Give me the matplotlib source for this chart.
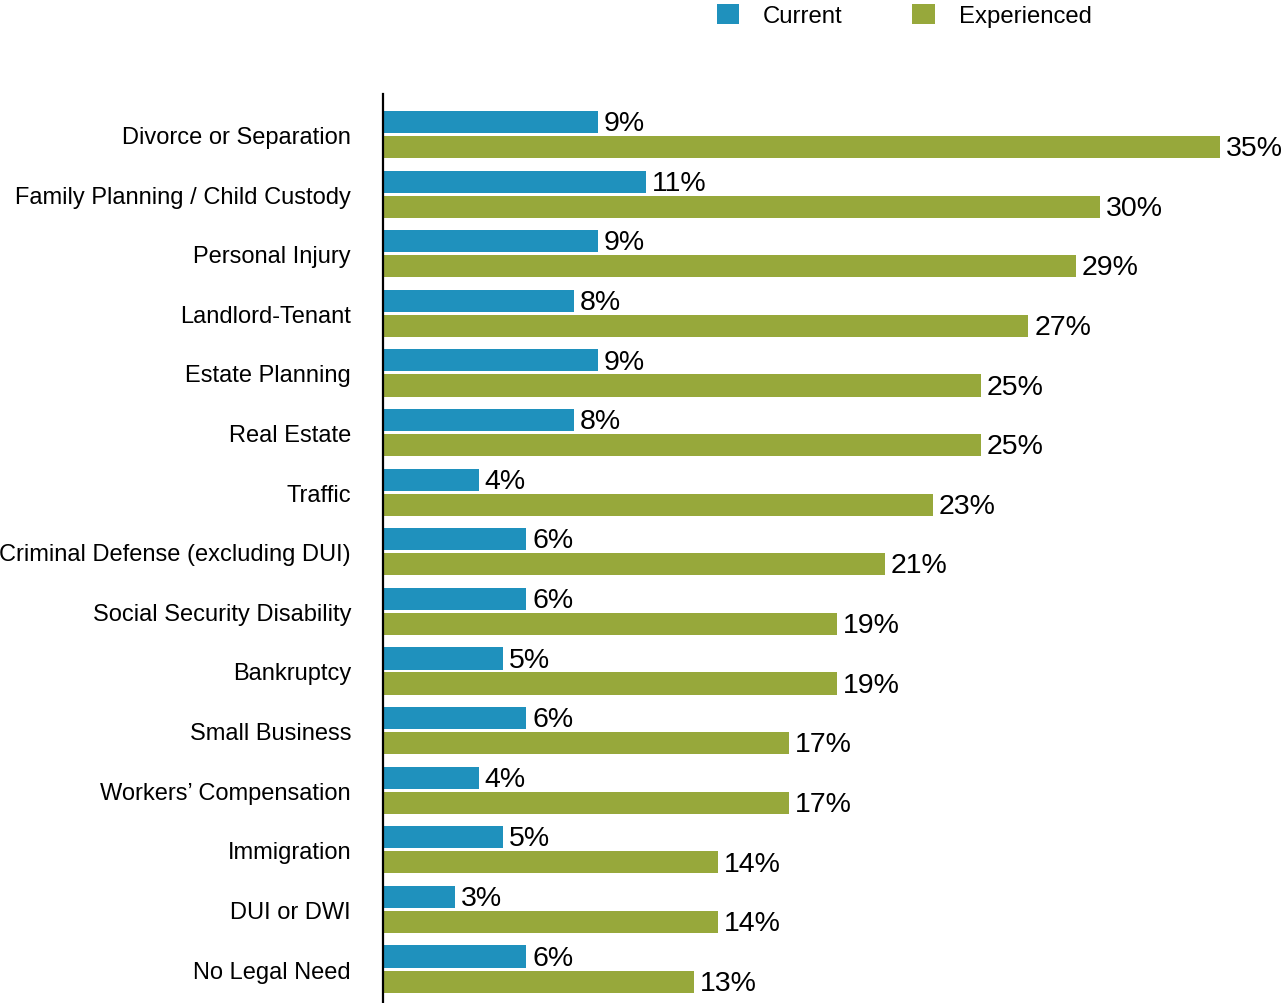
import numpy as np
import matplotlib.pyplot as plt

plt.rcParams['font.family'] = ['Liberation Sans', 'DejaVu Sans']

categories = [
    "Divorce or Separation",
    "Family Planning / Child Custody",
    "Personal Injury",
    "Landlord-Tenant",
    "Estate Planning",
    "Real Estate",
    "Traffic",
    "Criminal Defense (excluding DUI)",
    "Social Security Disability",
    "Bankruptcy",
    "Small Business",
    "Workers\u2019 Compensation",
    "Immigration",
    "DUI or DWI",
    "No Legal Need",
]
current = [9, 11, 9, 8, 9, 8, 4, 6, 6, 5, 6, 4, 5, 3, 6]
experienced = [35, 30, 29, 27, 25, 25, 23, 21, 19, 19, 17, 17, 14, 14, 13]

blue = '#1f91bd'
green = '#97a83b'

fig = plt.figure(figsize=(12.86, 10.04), dpi=100)
ax = fig.add_axes([383 / 1286, 0, 1 - 383 / 1286, 1 - 95 / 1004])

y = np.arange(len(categories))
h = 0.37
off = 0.21
ax.barh(y - off, current, height=h, color=blue, label='Current')
ax.barh(y + off, experienced, height=h, color=green, label='Experienced')

# percentage labels just past the end of each bar
for yi, v in zip(y, current):
    ax.text(v + 0.25, yi - off + 0.02, f"{v}%", va='center', ha='left', fontsize=20.5)
for yi, v in zip(y, experienced):
    ax.text(v + 0.25, yi + off + 0.02, f"{v}%", va='center', ha='left', fontsize=20.5)

ax.set_xlim(0, (1286 - 383) / 23.9)
ax.set_ylim(len(categories) - 1 + 0.57, -0.68)
ax.set_yticks(y)
ax.set_yticklabels(categories, fontsize=17)
ax.tick_params(axis='y', length=0, pad=23)
ax.set_xticks([])
for s in ['top', 'right', 'bottom']:
    ax.spines[s].set_visible(False)
ax.spines['left'].set_linewidth(1.6)
ax.spines['left'].set_color('black')

fig.legend(loc='upper left', bbox_to_anchor=(707 / 1286, 1.005), ncol=2,
           frameon=False, fontsize=17.2, handlelength=0.95, handleheight=0.95,
           handletextpad=1.0, columnspacing=2.9, borderaxespad=0)

fig.savefig('out.png', dpi=100)
